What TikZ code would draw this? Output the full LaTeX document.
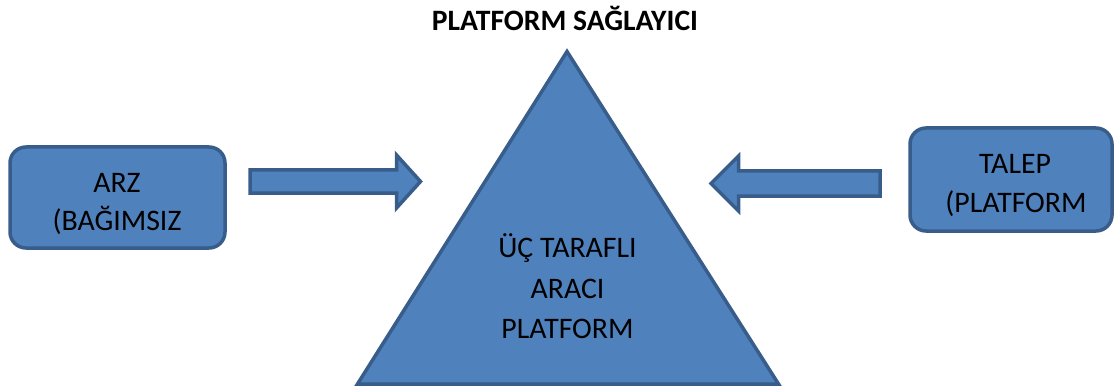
\documentclass[tikz,border=0pt]{standalone}
\usepackage{fontspec}
\setmainfont{Carlito}
\definecolor{shapefill}{HTML}{4F81BD}
\definecolor{shapeline}{HTML}{385D8A}
\begin{document}
\begin{tikzpicture}[x=1pt,y=-1pt,
  blueshape/.style={fill=shapefill,draw=shapeline,line width=3.5pt,line join=miter},
  bluebox/.style={blueshape,rounded corners=16pt},
  lbl/.style={anchor=base,inner sep=0pt,font=\fontsize{29.8}{34}\selectfont},
  ttl/.style={anchor=base,inner sep=0pt,font=\fontsize{29.6}{33}\selectfont\bfseries}]
\useasboundingbox (0,0) rectangle (1115,390);
% triangle
\draw[blueshape] (567,51.5) coordinate (apex) -- (778.5,384) coordinate (bright) -- (357.5,384) coordinate (bleft) -- cycle;
% boxes
\draw[bluebox] (10,147) rectangle (225,248);
\draw[bluebox] (910,128) rectangle (1112,231);
% block arrows
\draw[blueshape] (250,170) -- (396.5,170) -- (396.5,155) -- (420.5,181.5) -- (396.5,208) -- (396.5,193) -- (250,193) -- cycle;
\draw[blueshape] (880,171) -- (738.5,171) -- (738.5,156) -- (711,183.5) -- (738.5,211) -- (738.5,196) -- (880,196) -- cycle;
% texts
\node[ttl] (title) at (565,31) {PLATFORM SAĞLAYICI};
\node[lbl] (arz1) at (117,192) {ARZ};
\node[lbl] (arz2) at (117,230) {(BAĞIMSIZ};
\node[lbl] (talep1) at (1015,173) {TALEP};
\node[lbl] (talep2) at (1016,212) {(PLATFORM};
\node[lbl] (tri1) at (567.5,257) {ÜÇ TARAFLI};
\node[lbl] (tri2) at (567.5,298) {ARACI};
\node[lbl] (tri3) at (567.5,338) {PLATFORM};
\end{tikzpicture}
\end{document}
